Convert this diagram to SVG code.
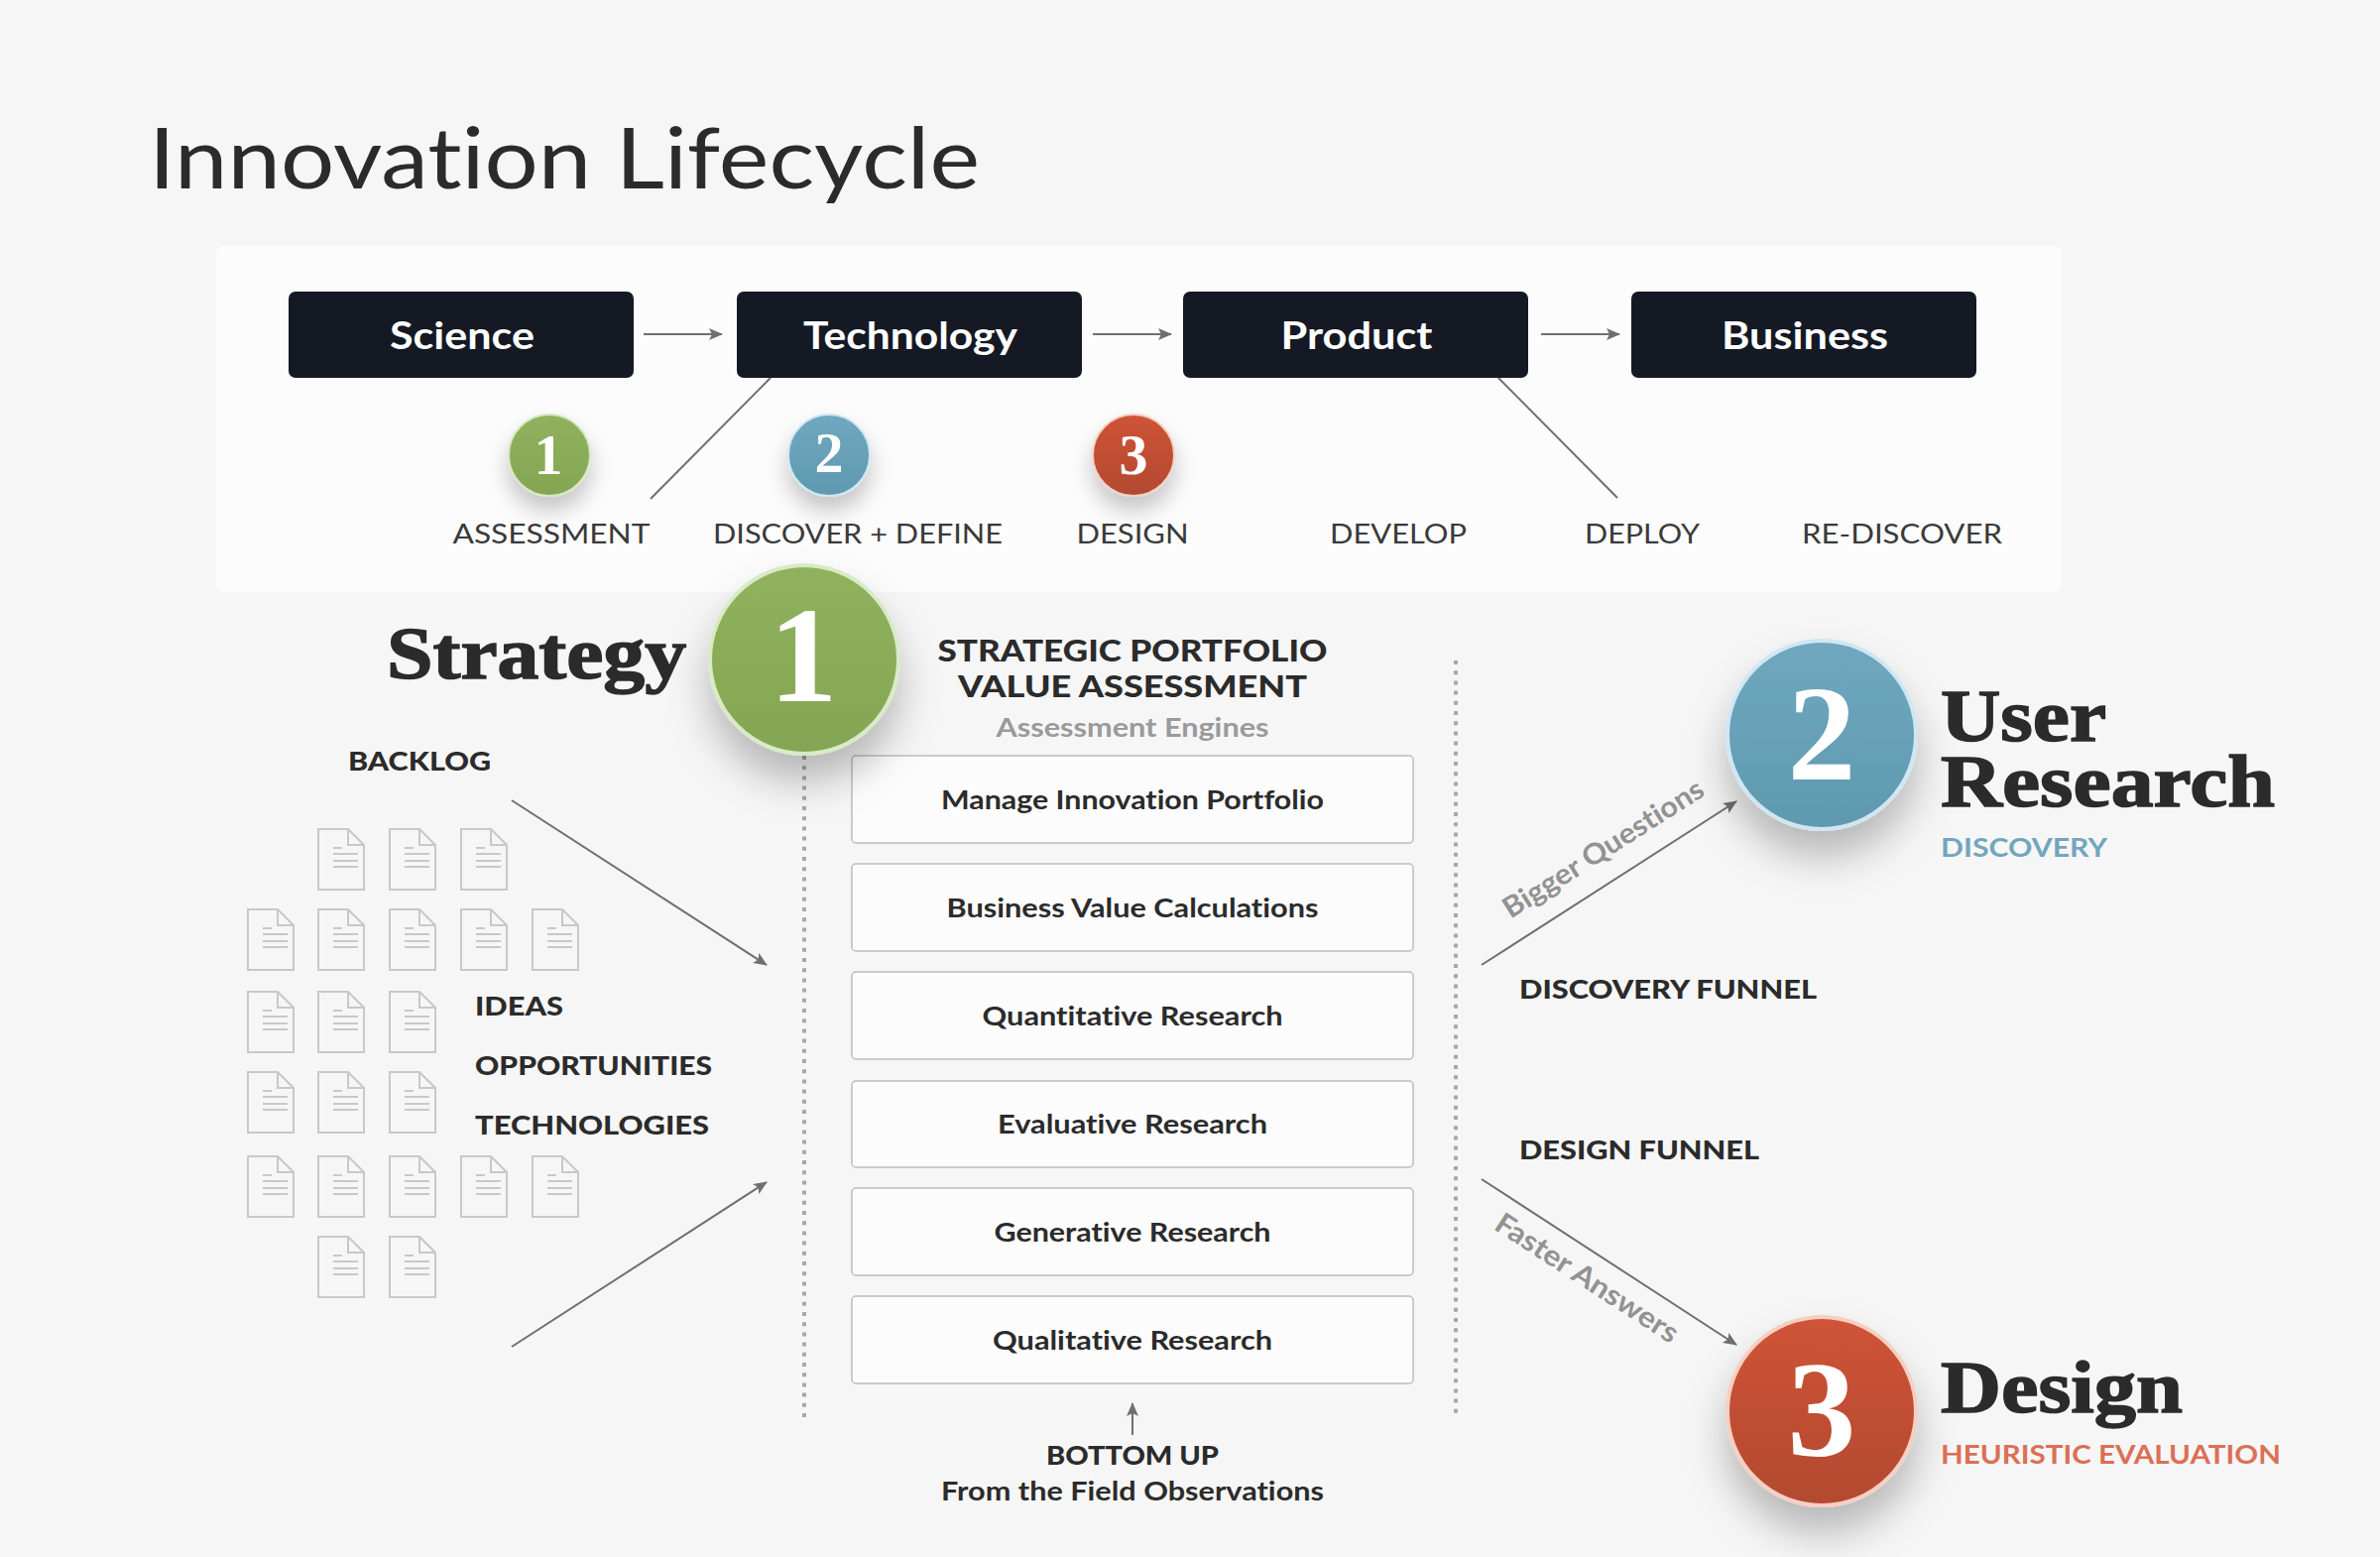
<svg xmlns="http://www.w3.org/2000/svg" width="2400" height="1570" viewBox="0 0 2400 1570">
<style>
text{font-family:"Lato","Liberation Sans",sans-serif;fill:#2b2b2b;font-variant-ligatures:none}
.m{text-anchor:middle}
.title{font-size:86px;font-weight:400}
.stage{fill:#141924}
.stagetxt{font-size:38px;font-weight:700;fill:#fff}
.phase{font-size:27px;font-weight:400;fill:#3a3a3a}
.head{font-size:30px;font-weight:900}
.sub{font-size:27px;font-weight:700;fill:#9a9a9a}
.box{fill:#fcfcfc;stroke:#bcbcbc;stroke-width:1.5}
.boxtxt{font-size:27px;font-weight:700}
.lab{font-size:27px;font-weight:900}
.serif{font-family:"Liberation Serif",serif;font-weight:700;font-size:74px;stroke:#2b2b2b;stroke-width:1.5;paint-order:stroke}
.num{font-family:"Liberation Serif",serif;font-weight:700;fill:#fff}
.big{font-size:138px}
.small{font-size:58px}
.ln{stroke:#6f6f6f;stroke-width:2;fill:none}
.arr{stroke:#6f6f6f;stroke-width:2;fill:none;marker-end:url(#ah)}
.dot{stroke:#a8a8a8;stroke-width:4;stroke-dasharray:4 6.2;fill:none}
.doc{fill:none;stroke:#c8c8c8;stroke-width:2}
.note{font-size:29px;font-weight:700;fill:#929292}
</style>
<defs>
<marker id="ah" viewBox="0 0 14 12" refX="13" refY="6" markerWidth="14" markerHeight="12" markerUnits="userSpaceOnUse" orient="auto"><path d="M0 0L14 6L0 12L3 6Z" fill="#6f6f6f"/></marker>
<linearGradient id="g1" x1="0" y1="0" x2="0" y2="1"><stop offset="0" stop-color="#90b25e"/><stop offset="1" stop-color="#84a653"/></linearGradient>
<linearGradient id="g2" x1="0" y1="0" x2="0" y2="1"><stop offset="0" stop-color="#6fa8bf"/><stop offset="1" stop-color="#5f99b0"/></linearGradient>
<linearGradient id="g3" x1="0" y1="0" x2="0" y2="1"><stop offset="0" stop-color="#cf5338"/><stop offset="1" stop-color="#b24a2f"/></linearGradient>
<filter id="sb" x="-50%" y="-50%" width="200%" height="220%"><feDropShadow dx="0" dy="26" stdDeviation="20" flood-color="#000" flood-opacity=".26"/></filter>
<filter id="ss" x="-60%" y="-60%" width="220%" height="240%"><feDropShadow dx="0" dy="14" stdDeviation="11" flood-color="#000" flood-opacity=".22"/></filter>
<g id="doc"><path class="doc" d="M1 1H31L47 17V62H1Z"/><path class="doc" d="M31 1V17H47"/><path class="doc" d="M16 20H25M16 26H41M16 33H41M16 39H41" stroke-width="1.5"/></g>
</defs>
<rect width="2400" height="1570" fill="#f6f6f6"/>
<text class="title" x="150" y="190" textLength="838" lengthAdjust="spacingAndGlyphs">Innovation Lifecycle</text>
<rect id="panel" x="218" y="248" width="1861" height="349" rx="8" fill="#fcfcfc"/>

<g id="connectors">
<path class="arr" d="M649 337H728"/><path class="arr" d="M1102 337H1181"/><path class="arr" d="M1554 337H1633"/>
<path class="ln" d="M777 381L656 503"/><path class="ln" d="M1511 381L1631 502"/>
<path class="arr" d="M516 807L773 973"/><path class="arr" d="M516 1358L773 1192"/>
<path class="arr" d="M1494 973L1751 808"/><path class="arr" d="M1494 1189L1751 1356"/>
<path class="arr" d="M1142 1447V1415"/>
<path class="dot" d="M811 762V1430"/><path class="dot" d="M1468 666V1430"/>
</g>

<g id="science"><rect class="stage" x="291" y="294" width="348" height="87" rx="7"/><text class="stagetxt m" x="466" y="352" textLength="146" lengthAdjust="spacingAndGlyphs">Science</text></g>
<g id="technology"><rect class="stage" x="743" y="294" width="348" height="87" rx="7"/><text class="stagetxt m" x="918" y="352" textLength="216" lengthAdjust="spacingAndGlyphs">Technology</text></g>
<g id="product"><rect class="stage" x="1193" y="294" width="348" height="87" rx="7"/><text class="stagetxt m" x="1368" y="352" textLength="153" lengthAdjust="spacingAndGlyphs">Product</text></g>
<g id="business"><rect class="stage" x="1645" y="294" width="348" height="87" rx="7"/><text class="stagetxt m" x="1820" y="352" textLength="168" lengthAdjust="spacingAndGlyphs">Business</text></g>

<g id="badge1"><circle cx="554" cy="459" r="41" fill="url(#g1)" stroke="#d5e8c0" stroke-width="2" filter="url(#ss)"/><text class="num small m" x="553" y="478">1</text></g>
<g id="badge2"><circle cx="836" cy="459" r="41" fill="url(#g2)" stroke="#cfe7f2" stroke-width="2" filter="url(#ss)"/><text class="num small m" x="836" y="476">2</text></g>
<g id="badge3"><circle cx="1143" cy="459" r="41" fill="url(#g3)" stroke="#f6cfc2" stroke-width="2" filter="url(#ss)"/><text class="num small m" x="1143" y="478">3</text></g>

<g id="phases">
<text class="phase m" x="556" y="548" textLength="199" lengthAdjust="spacingAndGlyphs">ASSESSMENT</text>
<text class="phase m" x="865" y="548" textLength="292" lengthAdjust="spacingAndGlyphs">DISCOVER + DEFINE</text>
<text class="phase m" x="1142" y="548" textLength="113" lengthAdjust="spacingAndGlyphs">DESIGN</text>
<text class="phase m" x="1410" y="548" textLength="138" lengthAdjust="spacingAndGlyphs">DEVELOP</text>
<text class="phase m" x="1656" y="548" textLength="116" lengthAdjust="spacingAndGlyphs">DEPLOY</text>
<text class="phase m" x="1918" y="548" textLength="202" lengthAdjust="spacingAndGlyphs">RE-DISCOVER</text>
</g>

<g id="portfolio-head">
<text class="head m" x="1142" y="667" textLength="393" lengthAdjust="spacingAndGlyphs">STRATEGIC PORTFOLIO</text>
<text class="head m" x="1142" y="703" textLength="352" lengthAdjust="spacingAndGlyphs">VALUE ASSESSMENT</text>
<text class="sub m" x="1142" y="743" textLength="275" lengthAdjust="spacingAndGlyphs">Assessment Engines</text>
</g>

<g id="engine1"><rect class="box" x="859" y="762" width="566" height="88" rx="4"/><text class="boxtxt m" x="1142" y="816" textLength="386" lengthAdjust="spacingAndGlyphs">Manage Innovation Portfolio</text></g>
<g id="engine2"><rect class="box" x="859" y="871" width="566" height="88" rx="4"/><text class="boxtxt m" x="1142" y="925" textLength="375" lengthAdjust="spacingAndGlyphs">Business Value Calculations</text></g>
<g id="engine3"><rect class="box" x="859" y="980" width="566" height="88" rx="4"/><text class="boxtxt m" x="1142" y="1034" textLength="303" lengthAdjust="spacingAndGlyphs">Quantitative Research</text></g>
<g id="engine4"><rect class="box" x="859" y="1090" width="566" height="87" rx="4"/><text class="boxtxt m" x="1142" y="1143" textLength="272" lengthAdjust="spacingAndGlyphs">Evaluative Research</text></g>
<g id="engine5"><rect class="box" x="859" y="1198" width="566" height="88" rx="4"/><text class="boxtxt m" x="1142" y="1252" textLength="279" lengthAdjust="spacingAndGlyphs">Generative Research</text></g>
<g id="engine6"><rect class="box" x="859" y="1307" width="566" height="88" rx="4"/><text class="boxtxt m" x="1142" y="1361" textLength="282" lengthAdjust="spacingAndGlyphs">Qualitative Research</text></g>

<g id="strategy">
<circle cx="811" cy="665" r="95" fill="url(#g1)" stroke="#d8eac6" stroke-width="4" filter="url(#sb)"/>
<text class="num big m" x="810" y="707">1</text>
<text class="serif" x="390" y="684" textLength="302" lengthAdjust="spacingAndGlyphs">Strategy</text>
</g>

<g id="bottom-up">
<text class="lab m" x="1142" y="1477" textLength="174" lengthAdjust="spacingAndGlyphs">BOTTOM UP</text>
<text class="boxtxt m" x="1142" y="1513" textLength="386" lengthAdjust="spacingAndGlyphs">From the Field Observations</text>
</g>

<g id="backlog">
<text class="lab" x="351" y="777" textLength="144" lengthAdjust="spacingAndGlyphs">BACKLOG</text>
<text class="lab" x="479" y="1024" textLength="89" lengthAdjust="spacingAndGlyphs">IDEAS</text>
<text class="lab" x="479" y="1084" textLength="239" lengthAdjust="spacingAndGlyphs">OPPORTUNITIES</text>
<text class="lab" x="479" y="1144" textLength="236" lengthAdjust="spacingAndGlyphs">TECHNOLOGIES</text>
<use href="#doc" x="320" y="835"/><use href="#doc" x="392" y="835"/><use href="#doc" x="464" y="835"/>
<use href="#doc" x="249" y="916"/><use href="#doc" x="320" y="916"/><use href="#doc" x="392" y="916"/><use href="#doc" x="464" y="916"/><use href="#doc" x="536" y="916"/>
<use href="#doc" x="249" y="999"/><use href="#doc" x="320" y="999"/><use href="#doc" x="392" y="999"/>
<use href="#doc" x="249" y="1080"/><use href="#doc" x="320" y="1080"/><use href="#doc" x="392" y="1080"/>
<use href="#doc" x="249" y="1165"/><use href="#doc" x="320" y="1165"/><use href="#doc" x="392" y="1165"/><use href="#doc" x="464" y="1165"/><use href="#doc" x="536" y="1165"/>
<use href="#doc" x="320" y="1246"/><use href="#doc" x="392" y="1246"/>
</g>

<g id="funnels">
<text class="lab" x="1532" y="1007" textLength="300" lengthAdjust="spacingAndGlyphs">DISCOVERY FUNNEL</text>
<text class="lab" x="1532" y="1169" textLength="242" lengthAdjust="spacingAndGlyphs">DESIGN FUNNEL</text>
<text class="note m" transform="translate(1622 864) rotate(-32.5)" textLength="234" lengthAdjust="spacingAndGlyphs">Bigger Questions</text>
<text class="note m" transform="translate(1595 1297) rotate(33)" textLength="214" lengthAdjust="spacingAndGlyphs">Faster Answers</text>
</g>

<g id="user-research">
<circle cx="1837" cy="741" r="95" fill="url(#g2)" stroke="#cfe7f2" stroke-width="4" filter="url(#sb)"/>
<text class="num big m" x="1837" y="786">2</text>
<text class="serif" x="1957" y="747" textLength="167" lengthAdjust="spacingAndGlyphs">User</text>
<text class="serif" x="1957" y="813" textLength="337" lengthAdjust="spacingAndGlyphs">Research</text>
<text class="lab" style="fill:#72a6bd;font-weight:700" x="1957" y="864" textLength="168" lengthAdjust="spacingAndGlyphs">DISCOVERY</text>
</g>

<g id="design">
<circle cx="1837" cy="1423" r="95" fill="url(#g3)" stroke="#f6cfc2" stroke-width="4" filter="url(#sb)"/>
<text class="num big m" x="1837" y="1468">3</text>
<text class="serif" x="1957" y="1424" textLength="244" lengthAdjust="spacingAndGlyphs">Design</text>
<text class="lab" style="fill:#dc6f55;font-weight:700" x="1957" y="1476" textLength="343" lengthAdjust="spacingAndGlyphs">HEURISTIC EVALUATION</text>
</g>
</svg>
